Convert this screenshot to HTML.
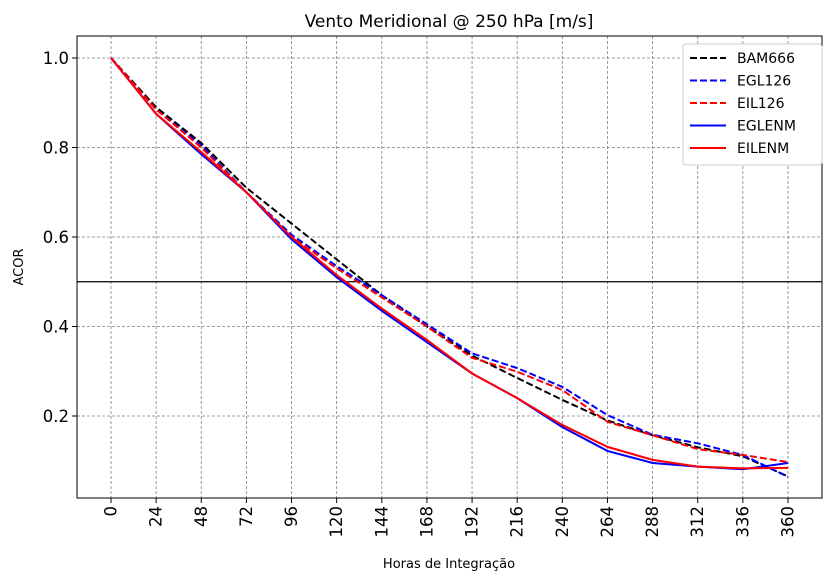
<!DOCTYPE html>
<html><head><meta charset="utf-8"><style>
body{margin:0;background:#fff;font-family:"Liberation Sans","DejaVu Sans",sans-serif}
svg text{font-family:"DejaVu Sans","Liberation Sans",sans-serif}
</style></head><body>
<svg id="chart" width="833" height="582" xmlns="http://www.w3.org/2000/svg">
<rect width="833" height="582" fill="#fff"/>
<g id="grid"></g><g id="series"></g><g id="axes"></g>
</svg>
<script>
const hours=[0,24,48,72,96,120,144,168,192,216,240,264,288,312,336,360];
const yTicks=[0.2,0.4,0.6,0.8,1.0];
const bam666=[1.0,0.89,0.81,0.71,0.63,0.55,0.47,0.40,0.335,0.285,0.236,0.19,0.157,0.13,0.11,0.065];
const egl126=[1.0,0.885,0.805,0.70,0.605,0.535,0.47,0.405,0.34,0.307,0.265,0.202,0.158,0.139,0.113,0.064];
const eil126=[1.0,0.885,0.80,0.70,0.60,0.53,0.465,0.40,0.33,0.299,0.258,0.187,0.157,0.126,0.113,0.097];
const eglenm=[1.0,0.875,0.785,0.70,0.595,0.51,0.435,0.365,0.295,0.24,0.175,0.122,0.095,0.087,0.081,0.095];
const eilenm=[1.0,0.875,0.79,0.70,0.60,0.515,0.44,0.37,0.295,0.24,0.18,0.131,0.102,0.087,0.083,0.084];
const L=77,R=822,T=36,B=498;
const xs=h=>111+(h/360)*677;
const ys=v=>505.5-v*447.5;
const NS="http://www.w3.org/2000/svg";
function mk(tag,attrs,parent){const e=document.createElementNS(NS,tag);for(const k in attrs)e.setAttribute(k,attrs[k]);parent.appendChild(e);return e;}
const grid=document.getElementById('grid'),ser=document.getElementById('series'),ax=document.getElementById('axes');
hours.forEach(h=>{const l=mk('line',{x1:xs(h),x2:xs(h),y1:T,y2:B,stroke:'#808080','stroke-width':0.8,'stroke-dasharray':'3,2'},grid);


mk('line',{x1:xs(h),x2:xs(h),y1:B,y2:B+5,stroke:'#000'},ax);
const t=mk('text',{x:0,y:0,'font-size':16.5,'text-anchor':'end','dominant-baseline':'central',transform:`translate(${xs(h)},${B+8}) rotate(-90)`},ax);t.textContent=h;

});
yTicks.forEach(v=>{const l=mk('line',{x1:L,x2:R,y1:ys(v),y2:ys(v),stroke:'#808080','stroke-width':0.8,'stroke-dasharray':'3,2'},grid);


mk('line',{x1:L-5,x2:L,y1:ys(v),y2:ys(v),stroke:'#000'},ax);
const t=mk('text',{x:L-8,y:ys(v)+6,'font-size':16.5,'text-anchor':'end'},ax);t.textContent=v.toFixed(1);

});
const ref=mk('line',{x1:L,x2:R,y1:ys(0.5),y2:ys(0.5),stroke:'#000','stroke-width':1.3},ser);


const defs=[['bam666',bam666,'#000',true,'BAM666'],['egl126',egl126,'#0000ff',true,'EGL126'],['eil126',eil126,'#ff0000',true,'EIL126'],['eglenm',eglenm,'#0000ff',false,'EGLENM'],['eilenm',eilenm,'#ff0000',false,'EILENM']];
defs.forEach(([n,d,c,dash,lab],i)=>{const p=mk('polyline',{points:d.map((v,j)=>xs(hours[j])+','+ys(v)).join(' '),fill:'none',stroke:c,'stroke-width':2,'stroke-dasharray':dash?'7,3':'none'},ser);

});
const frame=mk('rect',{x:L,y:T,width:R-L,height:B-T,fill:'none',stroke:'#000','stroke-width':1},ax);


const lg=mk('g',{},ax);


mk('rect',{x:683,y:44,width:139,height:121,rx:3,fill:'#fff',stroke:'#ccc'},lg);
defs.forEach(([n,d,c,dash,lab],i)=>{const y=58+i*22.5;
mk('line',{x1:690,x2:726,y1:y,y2:y,stroke:c,'stroke-width':2,'stroke-dasharray':dash?'7,3':'none'},lg);
const t=mk('text',{x:737,y:y+5,'font-size':14},lg);t.textContent=lab;

});
const title=mk('text',{x:449,y:27,'font-size':17,'text-anchor':'middle'},ax);title.textContent='Vento Meridional @ 250 hPa [m/s]';


const xt=mk('text',{x:449,y:568,'font-size':13,'text-anchor':'middle'},ax);xt.textContent='Horas de Integração';


const yt=mk('text',{x:0,y:0,'font-size':13,'text-anchor':'middle',transform:'translate(23,267) rotate(-90)'},ax);yt.textContent='ACOR';


</script>
</body></html>
